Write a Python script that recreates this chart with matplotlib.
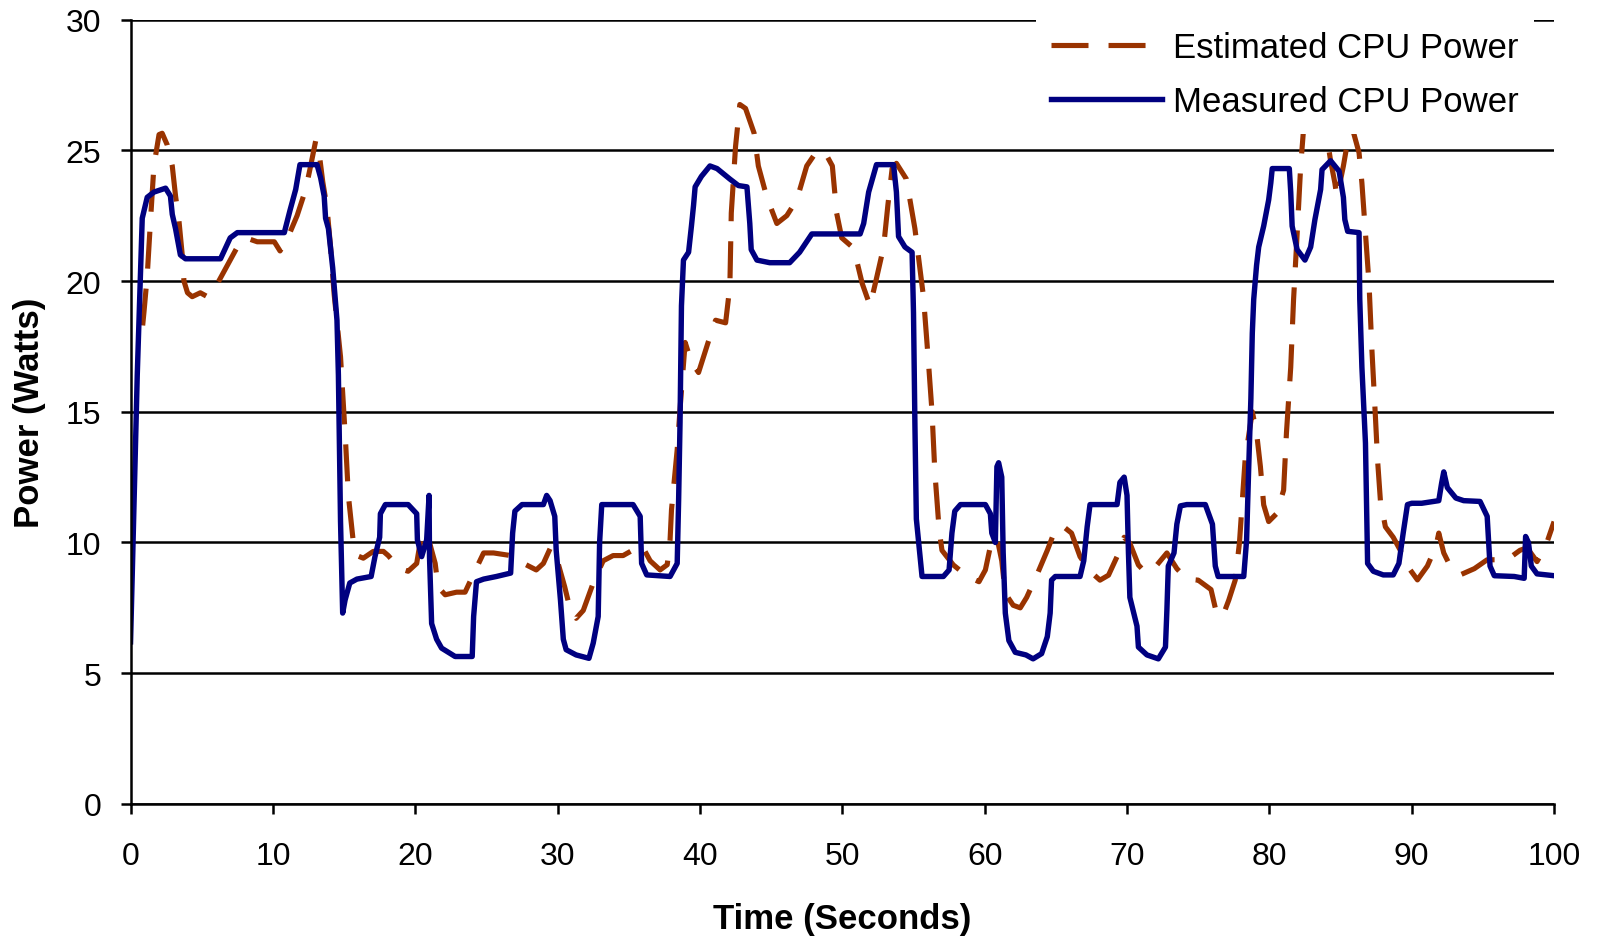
import matplotlib
matplotlib.use("Agg")
import matplotlib.pyplot as plt

# measured power trace (seconds, watts)
measured_t = [0.0, 0.47, 0.7, 0.82, 1.17, 1.64, 2.46, 2.8, 2.93, 3.16, 3.5, 3.86, 6.32, 7.0, 7.5,
              10.8, 11.2, 11.6, 11.9, 13.1, 13.35, 13.6, 13.7, 13.9, 14.2, 14.5, 14.6, 14.75, 14.9,
              15.07, 15.4, 15.9, 16.9, 17.17, 17.5, 17.55, 17.9, 19.5, 20.1, 20.15, 20.45, 20.8,
              20.97, 21.0, 21.15, 21.5, 21.85, 22.8, 24.0, 24.1, 24.3, 24.8, 25.7, 26.7, 26.84,
              27.0, 27.5, 29.0, 29.23, 29.47, 29.8, 29.9, 30.2, 30.4, 30.6, 31.3, 32.2, 32.5,
              32.85, 32.95, 33.1, 35.3, 35.8, 35.9, 36.26, 37.9, 38.4, 38.5, 38.6, 38.7, 38.84,
              39.2, 39.4, 39.55, 39.66, 40.1, 40.7, 41.2, 42.1, 42.7, 43.3, 43.5, 43.6, 44.0,
              44.9, 46.3, 47.0, 47.86, 51.25, 51.5, 51.85, 52.4, 53.6, 53.8, 53.95, 54.4, 54.9,
              55.0, 55.1, 55.2, 55.6, 57.1, 57.5, 57.7, 57.9, 58.3, 60.05, 60.4, 60.5, 60.75,
              60.86, 60.98, 61.2, 61.3, 61.45, 61.7, 62.15, 62.9, 63.4, 64.0, 64.4, 64.6, 64.7,
              64.96, 66.7, 66.96, 67.2, 67.4, 69.3, 69.5, 69.8, 70.0, 70.1, 70.2, 70.7, 70.8,
              71.4, 72.2, 72.7, 72.8, 72.9, 73.3, 73.5, 73.75, 74.2, 75.5, 76.0, 76.2, 76.4,
              78.2, 78.4, 78.55, 78.7, 78.8, 78.9, 79.1, 79.25, 79.6, 79.95, 80.1, 80.2, 81.4,
              81.5, 81.6, 81.95, 82.5, 82.9, 83.2, 83.6, 83.7, 84.3, 84.9, 85.2, 85.3, 85.5,
              86.3, 86.35, 86.5, 86.75, 86.9, 87.3, 88.0, 88.7, 89.1, 89.4, 89.7, 90.0, 90.7,
              91.9, 92.1, 92.25, 92.5, 93.1, 93.65, 94.8, 95.3, 95.5, 95.8, 97.2, 97.9, 98.0,
              98.2, 98.4, 98.8, 99.5, 100.0]
measured_w = [6.2, 16.4, 20.3, 22.4, 23.2, 23.4, 23.55, 23.25, 22.55, 22.0, 21.0, 20.85, 20.85,
              21.65, 21.85, 21.85, 22.7, 23.5, 24.45, 24.45, 23.95, 23.25, 22.4, 22.0, 20.5, 18.5,
              16.4, 10.8, 7.3, 7.8, 8.45, 8.6, 8.7, 9.46, 10.2, 11.1, 11.45, 11.45, 11.1, 10.1,
              9.46, 10.1, 11.8, 9.46, 6.9, 6.3, 5.96, 5.64, 5.64, 7.17, 8.5, 8.6, 8.7, 8.83,
              10.36, 11.2, 11.45, 11.45, 11.8, 11.6, 11.0, 9.7, 7.8, 6.3, 5.9, 5.7, 5.57, 6.15,
              7.17, 10.0, 11.45, 11.45, 11.0, 9.2, 8.76, 8.7, 9.2, 11.6, 14.6, 19.05, 20.8, 21.1,
              22.1, 22.9, 23.6, 24.0, 24.4, 24.3, 23.9, 23.65, 23.6, 22.2, 21.2, 20.8, 20.7, 20.7,
              21.1, 21.8, 21.8, 22.2, 23.4, 24.45, 24.45, 23.4, 21.7, 21.3, 21.1, 18.8, 14.5,
              10.9, 8.7, 8.7, 8.95, 10.36, 11.2, 11.45, 11.45, 11.1, 10.36, 10.0, 12.9, 13.05,
              12.5, 9.6, 7.3, 6.25, 5.8, 5.7, 5.55, 5.75, 6.4, 7.3, 8.56, 8.7, 8.7, 9.3, 10.6,
              11.45, 11.45, 12.3, 12.5, 11.8, 9.6, 7.9, 6.8, 6.0, 5.7, 5.55, 6.0, 7.4, 9.1, 9.6,
              10.7, 11.4, 11.45, 11.45, 10.7, 9.1, 8.7, 8.7, 10.1, 12.9, 15.5, 18.0, 19.3, 20.6,
              21.3, 22.1, 23.1, 23.75, 24.3, 24.3, 23.4, 22.1, 21.2, 20.8, 21.3, 22.35, 23.5,
              24.26, 24.6, 24.2, 23.2, 22.35, 21.9, 21.85, 19.3, 16.7, 13.8, 9.2, 8.9, 8.76,
              8.76, 9.2, 10.36, 11.45, 11.5, 11.5, 11.6, 12.27, 12.7, 12.1, 11.7, 11.6, 11.57,
              11.0, 9.1, 8.73, 8.7, 8.63, 10.23, 10.0, 9.1, 8.8, 8.76, 8.73]

# estimated power trace (seconds, watts)
estimated_t = [0.85, 0.94, 1.17, 1.4, 1.64, 2.0, 2.22, 2.58, 2.93, 3.16, 3.4, 3.63, 3.75, 4.0,
               4.33, 4.9, 5.4, 6.1, 6.8, 7.5, 8.1, 8.9, 10.1, 10.5, 11.0, 11.7, 12.3, 12.65,
               13.0, 13.2, 13.5, 13.8, 14.05, 14.3, 14.75, 15.1, 15.3, 15.65, 15.9, 16.35, 17.05,
               17.76, 18.1, 18.9, 19.5, 20.1, 20.3, 20.6, 21.0, 21.4, 21.6, 22.1, 22.9, 23.5,
               24.1, 24.8, 25.5, 26.7, 27.6, 28.5, 29.0, 29.5, 29.9, 30.5, 30.9, 31.3, 31.8,
               32.5, 33.2, 33.9, 34.6, 35.9, 36.5, 37.2, 37.7, 37.9, 38.0, 38.4, 38.6, 38.96,
               39.4, 39.9, 40.6, 41.1, 41.8, 42.1, 42.2, 42.5, 42.8, 43.2, 43.8, 44.1, 44.7,
               45.4, 46.1, 46.8, 47.5, 48.2, 48.8, 49.3, 49.6, 49.96, 50.7, 51.0, 51.4, 51.95,
               52.4, 52.9, 53.2, 53.5, 53.8, 54.5, 55.1, 55.7, 56.05, 56.3, 56.5, 56.8, 57.0,
               57.8, 58.8, 59.6, 60.05, 60.4, 60.86, 61.2, 61.45, 62.0, 62.5, 62.95, 63.7, 64.4,
               65.0, 65.55, 66.1, 66.7, 67.4, 68.1, 68.7, 69.3, 69.8, 70.2, 70.8, 71.3, 72.1,
               72.8, 73.5, 74.2, 75.0, 75.9, 76.2, 76.7, 77.15, 77.6, 77.9, 78.3, 78.8, 79.1,
               79.37, 79.6, 79.95, 80.5, 81.0, 81.2, 81.5, 81.7, 81.95, 82.2, 82.4, 83.0, 84.0,
               84.3, 84.6, 84.75, 85.2, 85.6, 85.8, 86.3, 86.5, 86.75, 87.0, 87.2, 87.45, 87.6,
               87.8, 88.15, 88.7, 89.2, 89.7, 90.4, 91.1, 91.7, 91.9, 92.25, 92.7, 93.4, 94.4,
               95.3, 96.7, 97.6, 98.1, 98.8, 99.4, 100.0]
estimated_w = [18.3, 18.8, 20.2, 22.3, 24.4, 25.6, 25.65, 25.2, 24.4, 23.25, 22.3, 21.0, 20.0,
               19.55, 19.4, 19.55, 19.4, 19.9, 20.6, 21.3, 21.65, 21.5, 21.5, 21.15, 21.6, 22.5,
               23.5, 24.4, 25.35, 25.1, 23.8, 22.8, 21.3, 19.5, 17.1, 13.9, 11.8, 10.0, 9.5, 9.4,
               9.66, 9.66, 9.5, 9.0, 8.9, 9.2, 9.85, 10.5, 10.0, 9.2, 8.3, 8.0, 8.1, 8.1, 8.8,
               9.6, 9.6, 9.5, 9.2, 8.95, 9.2, 9.8, 9.46, 8.3, 7.4, 7.1, 7.4, 8.45, 9.3, 9.5, 9.5,
               9.9, 9.3, 8.95, 9.15, 10.1, 11.25, 13.55, 15.1, 17.65, 16.9, 16.5, 17.7, 18.5,
               18.4, 19.8, 22.6, 25.15, 26.75, 26.6, 25.66, 24.4, 23.2, 22.2, 22.5, 23.1, 24.4,
               24.96, 24.9, 24.4, 22.6, 21.65, 21.3, 20.8, 19.9, 19.05, 20.1, 21.3, 22.9, 24.3,
               24.5, 23.9, 22.0, 19.4, 16.9, 15.0, 12.7, 10.5, 9.7, 9.14, 8.7, 8.5, 8.95, 9.85,
               10.2, 9.3, 8.05, 7.6, 7.5, 7.9, 8.8, 9.7, 10.55, 10.6, 10.36, 9.46, 8.9, 8.56,
               8.75, 9.46, 10.2, 9.97, 9.14, 8.85, 9.14, 9.6, 9.0, 8.6, 8.56, 8.2, 7.5, 7.15, 7.8,
               8.56, 10.0, 13.2, 15.0, 14.2, 12.9, 11.44, 10.8, 11.1, 12.0, 14.2, 16.7, 19.3,
               21.8, 24.4, 25.8, 27.0, 25.66, 24.6, 23.75, 23.2, 24.4, 25.66, 25.9, 24.9, 23.75,
               21.8, 19.9, 17.4, 14.8, 13.15, 11.6, 10.6, 10.2, 9.7, 9.1, 8.57, 9.1, 9.85, 10.36,
               9.6, 9.1, 8.76, 9.0, 9.34, 9.34, 9.7, 9.8, 9.27, 9.85, 10.8]

x_ticks = list(range(0, 101, 10))
y_ticks = list(range(0, 31, 5))

plt.rcParams['font.family'] = ['Liberation Sans', 'DejaVu Sans']

fig = plt.figure(figsize=(16, 9.37), dpi=100)
ax = fig.add_axes([0.0816, 0.1409, 0.8897, 0.8372])

ax.plot(estimated_t, estimated_w, color='#993300', lw=3.7, linestyle=(0, (7.2, 3.9)),
        dash_joinstyle='round', label='Estimated CPU Power')
ax.plot(measured_t, measured_w, color='#000080', lw=3.9, solid_joinstyle='round',
        label='Measured CPU Power')

ax.set_xlim(0, 100)
ax.set_ylim(0, 30)
ax.set_xticks(x_ticks)
ax.set_yticks(y_ticks)
ax.yaxis.grid(True, color='black', lw=1.8)
ax.set_axisbelow(True)
for side in ('top', 'right'):
    ax.spines[side].set_visible(False)
for side in ('left', 'bottom'):
    ax.spines[side].set_linewidth(1.8)
ax.tick_params(axis='both', direction='out', length=7, width=1.8, labelsize=23)
ax.tick_params(axis='x', pad=20)
ax.tick_params(axis='y', pad=14)

ax.set_xlabel('Time (Seconds)', fontsize=25, fontweight='bold', labelpad=22)
ax.set_ylabel('Power (Watts)', fontsize=25, fontweight='bold', labelpad=14)

# white legend box sits over the top gridline
leg = ax.legend(loc='upper right', bbox_to_anchor=(0.986, 1.0052), fontsize=25,
                frameon=True, fancybox=False, edgecolor='none', facecolor='white',
                framealpha=1.0, handlelength=3.2, handletextpad=0.3, labelspacing=0.6,
                borderpad=0.45, borderaxespad=0.0)

fig.savefig('out.png', dpi=100)
